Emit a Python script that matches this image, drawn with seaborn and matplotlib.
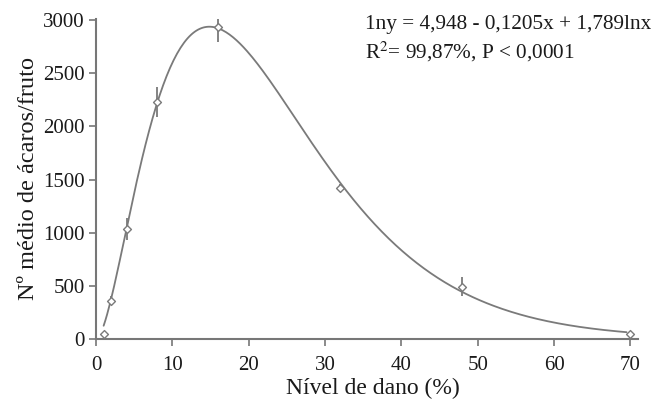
import numpy as np
import pandas as pd
import matplotlib
matplotlib.use("Agg")
import matplotlib.pyplot as plt
import seaborn as sns

# Observed data
dano = [1, 2, 4, 8, 16, 32, 48, 70]
acaros = [45, 360, 1035, 2232, 2935, 1420, 492, 45]
erro = [20, 40, 100, 140, 140, 40, 90, 20]

# Fitted model coefficients (from the equation in the chart)
b0, b1, b2 = 4.948, -0.1205, 1.789
x_ticks = [0, 10, 20, 30, 40, 50, 60, 70]
y_ticks = [0, 500, 1000, 1500, 2000, 2500, 3000]

sns.set_theme(style="white")
plt.rcParams['font.family'] = ['Liberation Serif', 'DejaVu Serif']
plt.rcParams['mathtext.fontset'] = 'stix'

fig = plt.figure(figsize=(6.65, 4.01), dpi=100)
ax = fig.add_axes([96/665, 62/401, 542/665, 320/401])

xs = np.linspace(1, 69.5, 300)
ys = np.exp(b0 + b1 * xs + b2 * np.log(xs))
curve = pd.DataFrame({"x": xs, "y": ys})
sns.lineplot(data=curve, x="x", y="y", ax=ax, color="#7a7a7a", lw=1.3)

obs = pd.DataFrame({"dano": dano, "acaros": acaros, "erro": erro})
ax.errorbar(obs["dano"], obs["acaros"], yerr=obs["erro"], fmt="none",
            ecolor="#7a7a7a", elinewidth=1.3, capsize=0, zorder=3)
sns.scatterplot(data=obs, x="dano", y="acaros", ax=ax, marker="D", s=16,
                facecolor="white", edgecolor="#7a7a7a", linewidth=1.0, zorder=4)

ax.set_xlim(0, 71)
ax.set_ylim(0, 3010)
ax.set_xticks(x_ticks)
ax.set_yticks(y_ticks)
ax.tick_params(axis="both", labelsize=15, colors="#1a1a1a", length=5,
               width=1.2, direction="out", color="#777777", bottom=True, left=True)
ax.tick_params(axis="x", pad=7)
ax.tick_params(axis="y", pad=3)
for s in ["top", "right"]:
    ax.spines[s].set_visible(False)
for s in ["left", "bottom"]:
    ax.spines[s].set_color("#777777")
    ax.spines[s].set_linewidth(1.5)

ax.set_xlabel("Nível de dano (%)", fontsize=17, color="#1a1a1a", labelpad=3)
ax.set_ylabel("Nº médio de ácaros/fruto", fontsize=17.5, color="#1a1a1a", labelpad=3)
ax.xaxis.set_label_coords(0.511, -0.12)

fig.text(365/665, 1 - 24/401, "1ny = 4,948 - 0,1205x + 1,789lnx", fontsize=15.3,
         color="#1a1a1a", va="center", ha="left")
fig.text(365/665, 1 - 52/401, "R$^{2}$= 99,87%, P < 0,0001", fontsize=15.3,
         color="#1a1a1a", va="center", ha="left")

fig.savefig("out.png", dpi=100, facecolor="white")
